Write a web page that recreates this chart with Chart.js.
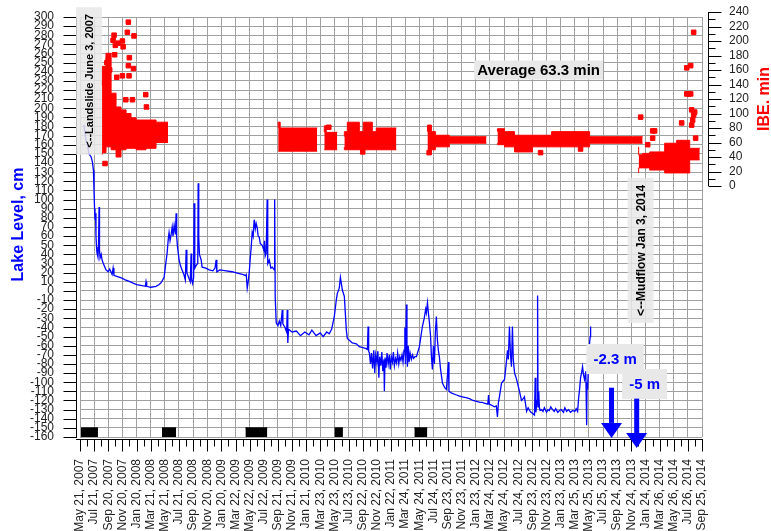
<!DOCTYPE html>
<html>
<head>
<meta charset="utf-8">
<script src="https://cdn.jsdelivr.net/npm/chart.js@4.4.0/dist/chart.umd.min.js"></script>
<style>
  html, body { margin: 0; padding: 0; background: #fff; }
</style>
</head>
<body>
<canvas id="chart" width="771" height="531"></canvas>
<script>
const FONT = "'Liberation Sans', Arial, sans-serif";
const BLUE = "#0000ff";
const RED = "#ff0000";
const GRID = "#a0a0a0";

// x axis runs in two-month steps starting May 21, 2007
const DATE_LABELS = [
  "May 21, 2007", "Jul 21, 2007", "Sep 20, 2007", "Nov 20, 2007",
  "Jan 20, 2008", "Mar 21, 2008", "May 21, 2008", "Jul 21, 2008", "Sep 20, 2008", "Nov 20, 2008",
  "Jan 20, 2009", "Mar 22, 2009", "May 22, 2009", "Jul 22, 2009", "Sep 21, 2009", "Nov 21, 2009",
  "Jan 21, 2010", "Mar 23, 2010", "May 23, 2010", "Jul 23, 2010", "Sep 22, 2010", "Nov 22, 2010",
  "Jan 22, 2011", "Mar 24, 2011", "May 24, 2011", "Jul 24, 2011", "Sep 23, 2011", "Nov 23, 2011",
  "Jan 23, 2012", "Mar 24, 2012", "May 24, 2012", "Jul 24, 2012", "Sep 23, 2012", "Nov 23, 2012",
  "Jan 23, 2013", "Mar 25, 2013", "May 25, 2013", "Jul 25, 2013", "Sep 24, 2013", "Nov 24, 2013",
  "Jan 24, 2014", "Mar 26, 2014", "May 26, 2014", "Jul 26, 2014", "Sep 25, 2014",
];

const LEVEL_TICKS = [
  -160, -150, -140, -130, -120, -110, -100, -90, -80, -70, -60, -50, -40, -30, -20, -10,
  0, 10, 20, 30, 40, 50, 60, 70, 80, 90, 100, 110, 120, 130, 140, 150, 160, 170, 180,
  190, 200, 210, 220, 230, 240, 250, 260, 270, 280, 290, 300,
];
const IBE_TICKS = [0, 20, 40, 60, 80, 100, 120, 140, 160, 180, 200, 220, 240];

// lake level, cm: [step, level]
const lakeLevel = [
  [0.28, 182], [0.42, 165], [0.50, 162], [0.64, 150], [0.78, 147], [0.88, 141], [0.95, 132], [0.99, 110],
  [1.03, 90], [1.06, 78], [1.10, 85], [1.13, 60], [1.17, 48], [1.20, 42], [1.27, 37], [1.31, 50],
  [1.35, 92], [1.38, 45], [1.42, 36], [1.50, 40], [1.56, 34], [1.65, 30], [1.84, 23], [2.00, 21],
  [2.10, 24], [2.27, 18], [2.34, 25], [2.40, 17], [2.60, 16], [2.97, 14], [3.20, 12], [3.40, 11],
  [3.68, 9], [4.00, 7], [4.30, 6], [4.62, 5], [4.67, 10], [4.72, 5], [5.00, 4], [5.38, 5],
  [5.60, 7], [5.74, 9], [5.95, 15], [6.05, 28], [6.16, 41], [6.25, 58], [6.30, 64], [6.37, 55],
  [6.44, 61], [6.52, 70], [6.58, 60], [6.66, 72], [6.75, 62], [6.80, 85], [6.84, 59], [6.90, 48],
  [7.01, 34], [7.10, 28], [7.22, 23], [7.35, 18], [7.45, 12], [7.51, 45], [7.56, 20], [7.70, 14],
  [7.80, 10], [7.86, 41], [7.90, 12], [7.97, 8], [8.04, 15], [8.07, 96], [8.12, 25], [8.22, 28],
  [8.33, 30], [8.36, 118], [8.40, 59], [8.45, 40], [8.57, 34], [8.64, 26], [8.90, 25], [9.14, 23],
  [9.40, 22], [9.55, 25], [9.63, 34], [9.68, 21], [9.90, 23], [10.34, 22], [10.76, 21], [11.00, 20],
  [11.26, 19], [11.50, 18], [11.70, 17], [11.76, 18], [11.83, 3], [11.90, 10], [11.97, 20], [12.04, 35],
  [12.11, 48], [12.18, 64], [12.25, 60], [12.32, 78], [12.40, 68], [12.46, 74], [12.54, 69], [12.60, 60],
  [12.68, 59], [12.75, 52], [12.89, 50], [13.00, 45], [13.05, 55], [13.10, 38], [13.17, 41], [13.24, 100],
  [13.28, 30], [13.39, 34], [13.50, 25], [13.60, 26], [13.74, 23], [13.77, 100], [13.81, -7], [13.88, -35],
  [14.00, -38], [14.10, -33], [14.20, -38], [14.31, -21], [14.35, -36], [14.50, -40], [14.62, -45], [14.66, -21],
  [14.70, -57], [14.75, -42], [15.01, -45], [15.30, -44], [15.60, -49], [15.90, -45], [16.20, -48], [16.40, -43],
  [16.70, -49], [17.00, -46], [17.20, -50], [17.45, -45], [17.63, -47], [17.80, -42], [17.99, -28], [18.13, -10],
  [18.20, -3], [18.34, 3], [18.42, 15], [18.56, 1], [18.70, -6], [18.84, -43], [18.91, -52], [19.05, -54],
  [19.26, -57], [19.55, -58], [19.76, -61], [20.00, -62], [20.20, -63], [20.33, -64], [20.38, -39], [20.42, -66],
  [20.47, -68], [20.55, -80], [20.62, -68], [20.70, -85], [20.78, -65], [20.85, -90], [20.92, -70], [21.00, -78],
  [21.07, -66], [21.14, -95], [21.20, -72], [21.28, -82], [21.35, -67], [21.42, -88], [21.50, -75], [21.53, -110],
  [21.58, -73], [21.65, -84], [21.72, -68], [21.80, -80], [21.88, -70], [21.95, -86], [22.02, -72], [22.10, -78],
  [22.17, -67], [22.24, -82], [22.32, -74], [22.40, -79], [22.47, -68], [22.55, -80], [22.62, -72], [22.70, -76],
  [22.78, -70], [22.85, -78], [22.92, -65], [22.98, -40], [23.02, -80], [23.09, -15], [23.13, -70], [23.16, -83],
  [23.22, -60], [23.28, -78], [23.35, -68], [23.44, -75], [23.52, -70], [23.60, -74], [23.70, -72], [23.80, -72],
  [24.01, -61], [24.22, -39], [24.35, -30], [24.45, -20], [24.50, -24], [24.58, -13], [24.65, -25], [24.72, -35],
  [24.80, -50], [24.86, -72], [24.93, -86], [25.00, -60], [25.07, -80], [25.14, -45], [25.21, -28], [25.28, -53],
  [25.35, -65], [25.42, -72], [25.50, -85], [25.64, -101], [25.80, -106], [25.92, -108], [26.06, -78], [26.10, -110],
  [26.30, -112], [26.63, -114], [26.80, -115], [27.05, -116], [27.30, -117], [27.55, -118], [27.80, -120], [28.05, -121],
  [28.30, -122], [28.47, -122], [28.60, -123], [28.85, -124], [28.90, -114], [28.95, -124], [29.10, -125], [29.32, -127],
  [29.45, -126], [29.53, -138], [29.60, -122], [29.67, -116], [29.82, -101], [30.03, -97], [30.15, -80], [30.24, -65],
  [30.30, -75], [30.38, -39], [30.45, -70], [30.52, -83], [30.59, -39], [30.65, -75], [30.74, -90], [30.85, -95],
  [30.95, -101], [31.09, -110], [31.23, -120], [31.35, -118], [31.44, -116], [31.50, -122], [31.59, -132], [31.70, -128],
  [31.80, -131], [31.90, -133], [32.00, -134], [32.15, -136], [32.20, -95], [32.25, -133], [32.33, -120], [32.37, -5],
  [32.40, -127], [32.45, -110], [32.50, -128], [32.55, -131], [32.65, -130], [32.75, -132], [32.85, -128], [33.00, -133],
  [33.10, -130], [33.20, -131], [33.30, -127], [33.43, -130], [33.55, -132], [33.65, -129], [33.80, -133], [33.92, -131],
  [34.05, -130], [34.20, -133], [34.30, -128], [34.42, -132], [34.55, -130], [34.70, -133], [34.84, -131], [35.00, -132],
  [35.10, -129], [35.20, -132], [35.27, -118], [35.34, -108], [35.41, -95], [35.48, -90], [35.55, -83], [35.62, -92],
  [35.69, -97], [35.78, -88], [35.84, -147], [35.87, -100], [35.91, -108], [35.98, -75], [36.05, -57], [36.09, -50],
  [36.12, -39],
];

// IBE, min: dense stretches as [step, low, high] columns
const ibe2007 = [
  [1.56, 43, 143], [1.84, 46, 165], [2.20, 54, 183], [2.55, 50, 128], [2.90, 40, 109], [3.26, 50, 105],
  [3.61, 52, 100], [3.97, 52, 94], [4.67, 50, 91], [5.38, 52, 91], [5.81, 60, 88], [6.23, 60, 88],
];
const ibe2009 = [[14.02, 48, 80], [14.16, 48, 88], [16.64, 48, 80], [16.78, 48, 80]];
const ibe2010a = [[17.28, 50, 74], [17.42, 50, 83], [17.71, 50, 74], [18.20, 50, 74]];
const ibe2010b = [
  [18.70, 54, 68], [18.91, 50, 75], [19.76, 50, 88], [20.04, 50, 75], [20.68, 50, 88], [20.96, 50, 75],
  [22.10, 50, 80], [22.38, 50, 80],
];
const ibe2011 = [[24.58, 47, 75], [24.86, 47, 84], [25.14, 50, 75], [26.13, 54, 70], [28.25, 59, 68], [28.75, 59, 68]];
const ibe2012 = [
  [29.53, 59, 75], [30.03, 57, 79], [30.74, 54, 75], [32.01, 47, 70], [33.36, 54, 70], [36.05, 54, 75],
  [39.09, 59, 68], [39.80, 59, 68],
];
const ibe2014 = [
  [39.52, 18, 54], [39.80, 25, 43], [40.30, 25, 45], [41.36, 22, 47], [42.21, 18, 59], [43.13, 18, 63],
  [43.70, 36, 52], [43.84, 36, 52],
];

// IBE, min: scattered single readings [step, minutes]
const ibeSingles = [
  [3.42, 226], [3.35, 212], [3.82, 207], [2.41, 208], [2.34, 201], [2.71, 197], [3.00, 200], [3.05, 192],
  [2.50, 194], [2.45, 181], [2.00, 174], [3.49, 177], [3.42, 166], [3.78, 162], [3.47, 152], [3.00, 152],
  [1.70, 142], [3.71, 119], [3.24, 119], [4.65, 126], [4.70, 109], [1.77, 31], [2.10, 160], [2.60, 150],
  [1.90, 170], [17.60, 81], [35.41, 51], [32.58, 46], [24.70, 46], [20.00, 47],
  [39.66, 95], [40.16, 57], [40.51, 76], [40.65, 76], [40.51, 66], [42.56, 87], [43.41, 212], [42.92, 163],
  [43.20, 166], [42.92, 127], [43.06, 127], [43.20, 127], [43.27, 105], [43.41, 98], [43.34, 91], [43.48, 102],
  [43.27, 84], [43.55, 66],
];

// summer field seasons along the bottom, [from step, to step]
const fieldSeasons = [[0.07, 1.27], [5.80, 6.80], [11.70, 13.25], [18.00, 18.60], [23.65, 24.57]];
const SEASON_TOP = -150;
const SEASON_BASE = -160;

Chart.defaults.font.family = FONT;
Chart.defaults.color = "#222";

function bandDatasets(cols) {
  const common = {
    yAxisID: "ibe", stepped: "after", pointRadius: 0, borderWidth: 1,
    borderColor: RED, backgroundColor: RED,
  };
  return [
    { ...common, data: cols.map((c) => ({ x: c[0], y: c[1] })), fill: false },
    { ...common, data: cols.map((c) => ({ x: c[0], y: c[2] })), fill: "-1" },
  ];
}

const datasets = [
  {
    label: "Lake level",
    yAxisID: "y",
    data: lakeLevel.map(([x, y]) => ({ x, y })),
    borderColor: BLUE,
    borderWidth: 1.3,
    pointRadius: 0,
    tension: 0,
    fill: false,
  },
  {
    label: "IBE",
    yAxisID: "ibe",
    data: ibeSingles.map(([x, y]) => ({ x, y })),
    showLine: false,
    pointStyle: "rect",
    pointRadius: 3.2,
    borderWidth: 1,
    borderColor: RED,
    backgroundColor: RED,
  },
];
for (const band of [ibe2007, ibe2009, ibe2010a, ibe2010b, ibe2011, ibe2012, ibe2014]) {
  datasets.push(...bandDatasets(band));
}
for (const [from, to] of fieldSeasons) {
  datasets.push({
    yAxisID: "y",
    data: [{ x: from, y: SEASON_TOP }, { x: to, y: SEASON_TOP }],
    fill: { value: SEASON_BASE },
    borderColor: "#000",
    borderWidth: 1,
    backgroundColor: "#000",
    pointRadius: 0,
  });
}

// axis lines and tick marks sit a few pixels off the plot frame
const frame = {
  id: "frame",
  beforeDatasetsDraw(chart) {
    const { ctx, chartArea: a, scales } = chart;
    const { x, y, ibe } = scales;
    const px = (v) => Math.round(v) + 0.5;
    const top = Math.floor(y.getPixelForValue(LEVEL_TICKS[LEVEL_TICKS.length - 1]));

    ctx.save();
    ctx.fillStyle = "#fff";
    ctx.fillRect(a.left - 1, a.top - 1, a.right - a.left + 2, top - a.top + 1);

    ctx.strokeStyle = "#000";
    ctx.lineWidth = 1;
    ctx.beginPath();
    // left
    const lx = px(a.left - 4);
    ctx.moveTo(lx, y.getPixelForValue(300));
    ctx.lineTo(lx, y.getPixelForValue(-160) + 1);
    for (const v of LEVEL_TICKS) {
      const ty = px(y.getPixelForValue(v));
      ctx.moveTo(lx, ty);
      ctx.lineTo(lx - 13, ty);
    }
    // bottom
    const by = px(a.bottom + 2);
    ctx.moveTo(a.left - 4, by);
    ctx.lineTo(a.right + 1, by);
    for (let i = 0; i < DATE_LABELS.length; i++) {
      const tx = px(x.getPixelForValue(i));
      ctx.moveTo(tx, by);
      ctx.lineTo(tx, by + 12);
      if (i < DATE_LABELS.length - 1) {
        const hx = px(x.getPixelForValue(i + 0.5));
        ctx.moveTo(hx, by);
        ctx.lineTo(hx, by + 7);
      }
    }
    // right
    const rx = px(a.right + 6);
    ctx.moveTo(rx, ibe.getPixelForValue(0));
    ctx.lineTo(rx, ibe.getPixelForValue(240));
    for (const v of IBE_TICKS) {
      const ty = px(ibe.getPixelForValue(v));
      ctx.moveTo(rx, ty);
      ctx.lineTo(rx + 13, ty);
      if (v < 240) {
        const my = px(ibe.getPixelForValue(v + 10));
        ctx.moveTo(rx, my);
        ctx.lineTo(rx + 7, my);
      }
    }
    ctx.stroke();
    ctx.restore();
  },
};

const notes = {
  id: "notes",
  afterDatasetsDraw(chart) {
    const { ctx, chartArea: a, scales } = chart;
    const { x, y, ibe } = scales;

    const vertical = [
      { text: "<--Landslide June 3, 2007", at: [0.64, 230], size: 11 },
      { text: "<--Mudflow Jan 3, 2014", at: [39.66, 44.4], size: 12 },
    ];
    for (const n of vertical) {
      ctx.save();
      ctx.font = `bold ${n.size}px ${FONT}`;
      const w = ctx.measureText(n.text).width + 14;
      ctx.translate(x.getPixelForValue(n.at[0]), y.getPixelForValue(n.at[1]));
      ctx.rotate(-Math.PI / 2);
      ctx.fillStyle = "rgba(232,232,232,0.85)";
      ctx.fillRect(-w / 2, -13, w, 26);
      ctx.fillStyle = "#000";
      ctx.textAlign = "center";
      ctx.textBaseline = "middle";
      ctx.fillText(n.text, 0, 1);
      ctx.restore();
    }

    const boxed = [
      { text: "Average 63.3 min", cx: x.getPixelForValue(32.44), cy: ibe.getPixelForValue(160), h: 19, pad: 3, color: "#000" },
      { text: "-2.3 m", cx: x.getPixelForValue(37.85), cy: y.getPixelForValue(-74.6), h: 30, pad: 7, color: BLUE },
      { text: "-5 m", cx: x.getPixelForValue(39.94), cy: y.getPixelForValue(-102), h: 30, pad: 7, color: BLUE },
    ];
    for (const b of boxed) {
      ctx.save();
      ctx.font = `bold 15px ${FONT}`;
      const w = ctx.measureText(b.text).width + b.pad * 2;
      ctx.fillStyle = "#e8e8e8";
      ctx.fillRect(b.cx - w / 2, b.cy - b.h / 2, w, b.h);
      ctx.fillStyle = b.color;
      ctx.textAlign = "center";
      ctx.textBaseline = "middle";
      ctx.fillText(b.text, b.cx, b.cy + 1);
      ctx.restore();
    }

    // projected drops
    const arrows = [
      { at: 37.6, from: -106, to: -161 },
      { at: 39.38, from: -118, to: -172 },
    ];
    ctx.save();
    ctx.fillStyle = BLUE;
    for (const ar of arrows) {
      const cx = x.getPixelForValue(ar.at);
      const y0 = y.getPixelForValue(ar.from);
      const tip = y.getPixelForValue(ar.to);
      ctx.fillRect(cx - 2.5, y0, 5, tip - 15 - y0);
      ctx.beginPath();
      ctx.moveTo(cx - 10.5, tip - 15);
      ctx.lineTo(cx + 10.5, tip - 15);
      ctx.lineTo(cx, tip);
      ctx.closePath();
      ctx.fill();
    }
    ctx.restore();

    ctx.save();
    ctx.font = `bold 16px ${FONT}`;
    ctx.fillStyle = RED;
    ctx.translate(a.right + 63, ibe.getPixelForValue(120));
    ctx.rotate(-Math.PI / 2);
    ctx.textAlign = "center";
    ctx.textBaseline = "middle";
    ctx.fillText("IBE. min", 0, 0);
    ctx.restore();
  },
};

new Chart(document.getElementById("chart"), {
  type: "line",
  data: { datasets },
  plugins: [frame, notes],
  options: {
    responsive: false,
    animation: false,
    events: [],
    layout: { padding: { top: 12, left: 0, right: 0, bottom: 0 } },
    plugins: { legend: { display: false }, tooltip: { enabled: false } },
    scales: {
      x: {
        type: "linear",
        min: 0,
        max: DATE_LABELS.length - 1,
        afterBuildTicks: (s) => { s.ticks = DATE_LABELS.map((_, i) => ({ value: i })); },
        afterFit: (s) => { s.height = 94; s.paddingLeft = 0; s.paddingRight = 0; },
        ticks: {
          autoSkip: false, minRotation: 90, maxRotation: 90, padding: 22,
          font: { size: 12 },
          callback: (v, i) => DATE_LABELS[i],
        },
        grid: { color: GRID, drawTicks: false },
        border: { display: false },
      },
      y: {
        type: "linear",
        position: "left",
        min: -160,
        max: 305.48,
        afterBuildTicks: (s) => { s.ticks = LEVEL_TICKS.map((v) => ({ value: v })); },
        afterFit: (s) => { s.width = 80; s.paddingTop = 0; s.paddingBottom = 0; },
        ticks: { autoSkip: false, padding: 26, font: { size: 12 } },
        grid: { color: GRID, drawTicks: false },
        border: { display: false },
        title: {
          display: true, text: "Lake Level, cm", color: BLUE,
          font: { size: 16, weight: "bold" }, padding: { top: 9, bottom: 0 },
        },
      },
      ibe: {
        type: "linear",
        position: "right",
        min: -346.2,
        max: 240,
        afterBuildTicks: (s) => { s.ticks = IBE_TICKS.map((v) => ({ value: v })); },
        afterFit: (s) => { s.width = 69; s.paddingTop = 0; s.paddingBottom = 0; },
        ticks: { autoSkip: false, padding: 27, font: { size: 12 } },
        grid: { drawOnChartArea: false, drawTicks: false },
        border: { display: false },
      },
    },
  },
});
</script>
</body>
</html>
